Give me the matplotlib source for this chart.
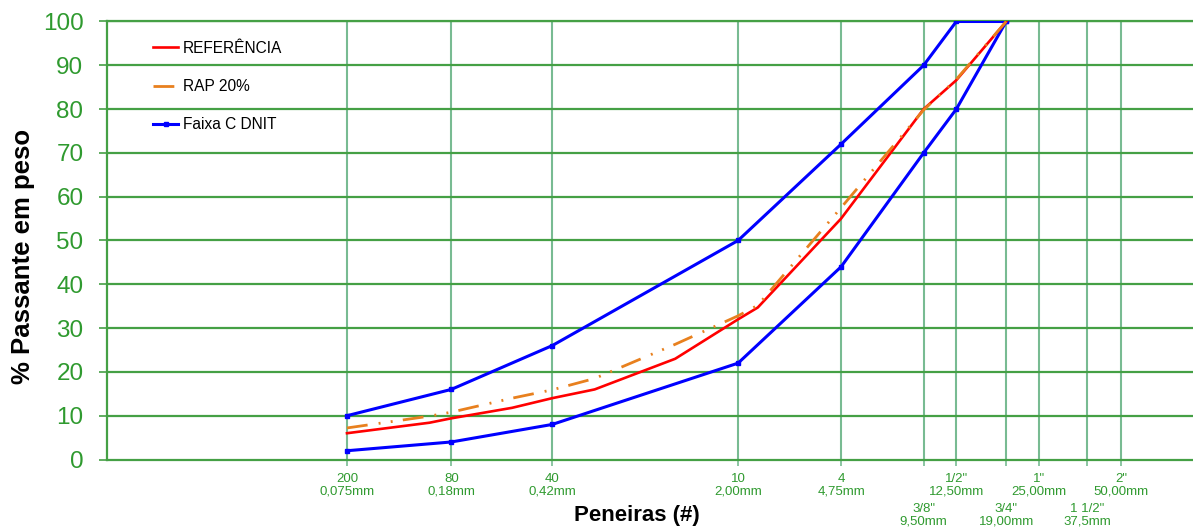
import matplotlib
matplotlib.use("Agg")
import matplotlib.pyplot as plt
from matplotlib.ticker import FixedLocator, NullLocator

plt.rcParams["font.family"] = ["Liberation Sans", "DejaVu Sans"]

# granulometria das misturas (abertura em mm x % passante)
sieve_mm = [0.075, 0.15, 0.18, 0.30, 0.42, 0.60, 1.18, 2.00, 2.36, 4.75, 9.50, 12.50, 19.00]
referencia = [6.0, 8.4, 9.4, 11.8, 14.0, 16.0, 23.0, 32.0, 34.7, 55.0, 80.0, 86.6, 100.0]
rap_20 = [7.2, 9.9, 10.8, 14.0, 15.9, 18.5, 26.3, 32.8, 35.2, 57.5, 79.8, 86.8, 100.0]

# limites da Faixa C do DNIT
faixa_mm = [0.075, 0.18, 0.42, 2.00, 4.75, 9.50, 12.50, 19.00]
faixa_sup = [10, 16, 26, 50, 72, 90, 100, 100]
faixa_inf = [2, 4, 8, 22, 44, 70, 80, 100]

# peneiras do eixo x
tick_mm = [0.075, 0.18, 0.42, 2.00, 4.75, 9.50, 12.50, 19.00, 25.00, 37.5, 50.00]
tick_labels = ["200\n0,075mm", "80\n0,18mm", "40\n0,42mm", "10\n2,00mm", "4\n4,75mm",
               "3/8\"\n9,50mm", "1/2\"\n12,50mm", "3/4\"\n19,00mm", "1\"\n25,00mm",
               "1 1/2\"\n37,5mm", "2\"\n50,00mm"]
staggered = ["3/8\"\n9,50mm", "3/4\"\n19,00mm", "1 1/2\"\n37,5mm"]

GREEN_H = "#45a045"
GREEN_V = "#78bb92"
TEXT_GREEN = "#2f9a2f"

fig = plt.figure(figsize=(11.93, 5.28), dpi=100)
ax = fig.add_axes([107 / 1193, 68.5 / 528, (1204 - 107) / 1193, (459.5 - 21.5) / 528])

ax.plot(sieve_mm, referencia, color="#ff0000", lw=1.9, label="REFERÊNCIA", zorder=4)
ax.plot(sieve_mm, rap_20, color="#e8801e", lw=2.0,
        linestyle=(0, (7.5, 4, 0.7, 3.7, 0.7, 3.7)), label="RAP 20%", zorder=5)
ax.plot(faixa_mm, faixa_sup, color="#0000ff", lw=2.2, marker="s", markersize=3.2,
        label="Faixa C DNIT", zorder=3)
ax.plot(faixa_mm, faixa_inf, color="#0000ff", lw=2.2, marker="s", markersize=3.2, zorder=3)

ax.set_xscale("log")
ax.set_xlim(0.01, 100)
ax.set_ylim(0, 100)

ax.xaxis.set_major_locator(FixedLocator(tick_mm))
ax.xaxis.set_minor_locator(NullLocator())
ax.set_xticklabels(tick_labels, linespacing=1.05)
ax.set_yticks(range(0, 101, 10))

ax.tick_params(axis="x", colors=GREEN_V, labelcolor=TEXT_GREEN, labelsize=9.5,
               length=4, width=1.2, pad=6)
ax.tick_params(axis="y", colors=GREEN_H, labelcolor=TEXT_GREEN, labelsize=17.5,
               length=6, width=1.2, pad=11)
for tick, lab in zip(ax.xaxis.get_major_ticks(), tick_labels):
    if lab in staggered:
        tick.set_pad(27)

for x in tick_mm:
    ax.axvline(x, color=GREEN_V, lw=1.5, zorder=1)
for y in range(10, 101, 10):
    ax.axhline(y, color=GREEN_H, lw=1.6, zorder=1)

for side in ["left", "bottom", "top"]:
    ax.spines[side].set_color(GREEN_H)
    ax.spines[side].set_linewidth(1.6)
ax.spines["right"].set_visible(False)

ax.set_ylabel("% Passante em peso", fontsize=18.5, fontweight="bold")
ax.yaxis.set_label_coords(-72 / 1097, 1 - (256 - 21.5) / 438)
fig.text(637 / 1193, 1 - 516 / 528, "Peneiras (#)", fontsize=16, fontweight="bold",
         ha="center", va="center")

ax.legend(loc="upper left", bbox_to_anchor=(40 / 1097, 1 - 13 / 438), frameon=False,
          fontsize=11.2, handlelength=1.6, handletextpad=0.3, labelspacing=1.5,
          borderaxespad=0)

fig.savefig("out.png", dpi=100)
